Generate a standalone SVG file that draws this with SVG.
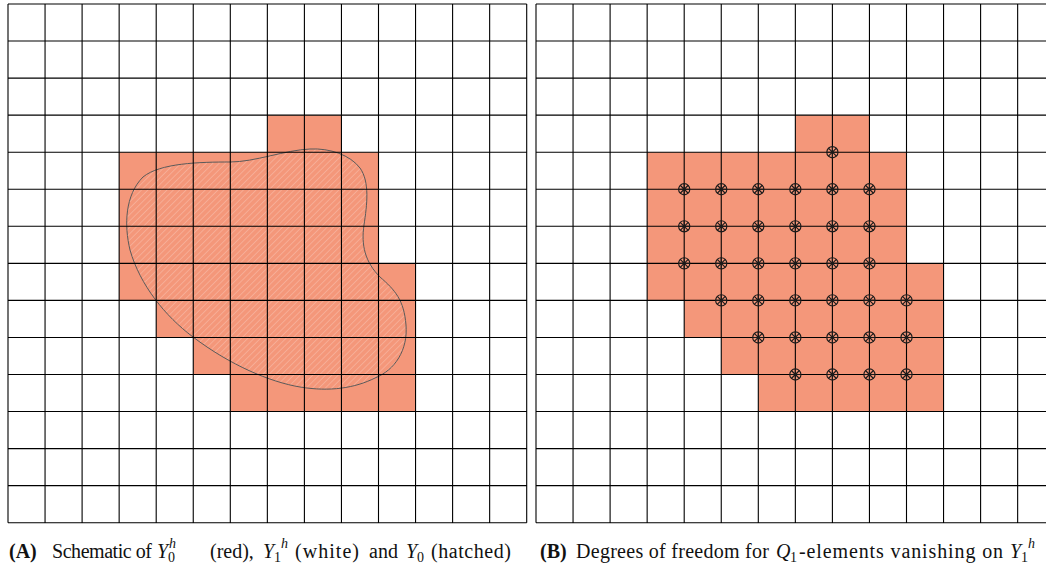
<svg xmlns="http://www.w3.org/2000/svg" xmlns:xlink="http://www.w3.org/1999/xlink" width="1046" height="567" viewBox="0 0 1046 567">
<style>
.grid{fill:none;stroke:#000;stroke-width:1.1}
.red{fill:#F4977A;stroke:none}
.blob{fill:url(#hatch);stroke:#5a5a5a;stroke-width:1}
.dof{fill:none;stroke:#1a1a1a;stroke-width:1.15}
.cap{font-family:"Liberation Serif","DejaVu Serif",serif;font-size:20px;fill:#111}
.it{font-style:italic}
.sm{font-size:14px}
</style>
<defs>
<pattern id="hatch" patternUnits="userSpaceOnUse" width="4.5" height="4.5" patternTransform="rotate(45)">
<line x1="0" y1="0" x2="0" y2="4.5" stroke="#ffffff" stroke-opacity="0.33" stroke-width="1.2"/>
</pattern>
<path id="gridpath" d="M8 4V522.7M45.05 4V522.7M82.1 4V522.7M119.15 4V522.7M156.2 4V522.7M193.25 4V522.7M230.3 4V522.7M267.35 4V522.7M304.4 4V522.7M341.45 4V522.7M378.5 4V522.7M415.55 4V522.7M452.6 4V522.7M489.65 4V522.7M526.7 4V522.7M8 4H526.7M8 41.05H526.7M8 78.1H526.7M8 115.15H526.7M8 152.2H526.7M8 189.25H526.7M8 226.3H526.7M8 263.35H526.7M8 300.4H526.7M8 337.45H526.7M8 374.5H526.7M8 411.55H526.7M8 448.6H526.7M8 485.65H526.7M8 522.7H526.7"/>
<path id="redpath" d="M267.35 115.15H341.45V152.2H378.5V263.35H415.55V411.55H230.3V374.5H193.25V337.45H156.2V300.4H119.15V152.2H267.35Z"/>
<g id="dofmark">
<circle cx="0" cy="0" r="5.6"/>
<path d="M-5.6 0H5.6M0 -5.6V5.6M-4 -4L4 4M-4 4L4 -4"/>
</g>
</defs>
<rect x="0" y="0" width="1046" height="567" fill="#fff"/>

<g id="panelA">
<use xlink:href="#redpath" href="#redpath" class="red"/>
<path id="Y0" class="blob" d="M143 177C160 163 200 162 230 162C255 162 285 150 310 149C330 148 350 155 360 168C370 182 367 205 364 225C361 245 365 262 380 277C395 290 404 300 406 325C408 350 395 370 375 378C355 388 330 392 300 387C270 382 230 365 193 337C165 316 140 285 130 250C124 225 125 195 143 177Z"/>
<use xlink:href="#gridpath" href="#gridpath" class="grid"/>
</g>

<g id="panelB">
<use xlink:href="#redpath" href="#redpath" class="red" transform="translate(528 0)"/>
<use xlink:href="#gridpath" href="#gridpath" class="grid" transform="translate(528 0)"/>
<g id="dofs" class="dof">
<use href="#dofmark" x="832.4" y="152.2"/>
<use href="#dofmark" x="684.2" y="189.25"/><use href="#dofmark" x="721.25" y="189.25"/><use href="#dofmark" x="758.3" y="189.25"/><use href="#dofmark" x="795.35" y="189.25"/><use href="#dofmark" x="832.4" y="189.25"/><use href="#dofmark" x="869.45" y="189.25"/>
<use href="#dofmark" x="684.2" y="226.3"/><use href="#dofmark" x="721.25" y="226.3"/><use href="#dofmark" x="758.3" y="226.3"/><use href="#dofmark" x="795.35" y="226.3"/><use href="#dofmark" x="832.4" y="226.3"/><use href="#dofmark" x="869.45" y="226.3"/>
<use href="#dofmark" x="684.2" y="263.35"/><use href="#dofmark" x="721.25" y="263.35"/><use href="#dofmark" x="758.3" y="263.35"/><use href="#dofmark" x="795.35" y="263.35"/><use href="#dofmark" x="832.4" y="263.35"/><use href="#dofmark" x="869.45" y="263.35"/>
<use href="#dofmark" x="721.25" y="300.4"/><use href="#dofmark" x="758.3" y="300.4"/><use href="#dofmark" x="795.35" y="300.4"/><use href="#dofmark" x="832.4" y="300.4"/><use href="#dofmark" x="869.45" y="300.4"/><use href="#dofmark" x="906.5" y="300.4"/>
<use href="#dofmark" x="758.3" y="337.45"/><use href="#dofmark" x="795.35" y="337.45"/><use href="#dofmark" x="832.4" y="337.45"/><use href="#dofmark" x="869.45" y="337.45"/><use href="#dofmark" x="906.5" y="337.45"/>
<use href="#dofmark" x="795.35" y="374.5"/><use href="#dofmark" x="832.4" y="374.5"/><use href="#dofmark" x="869.45" y="374.5"/><use href="#dofmark" x="906.5" y="374.5"/>
</g>
</g>

<g id="captionA">
<text class="cap" x="9" y="558" font-weight="bold">(A)</text>
<text class="cap" x="52" y="558" textLength="100" lengthAdjust="spacing">Schematic of</text>
<text class="cap it" x="157" y="558">Y</text>
<text class="cap it sm" x="169" y="548">h</text>
<text class="cap sm" x="168" y="562">0</text>
<text class="cap" x="210" y="558">(red),</text>
<text class="cap it" x="263" y="558">Y</text>
<text class="cap sm" x="274" y="562">1</text>
<text class="cap it sm" x="281" y="548">h</text>
<text class="cap" x="295" y="558" textLength="64" lengthAdjust="spacing">(white)</text>
<text class="cap" x="369" y="558">and</text>
<text class="cap it" x="406" y="558">Y</text>
<text class="cap sm" x="417" y="562">0</text>
<text class="cap" x="431" y="558" textLength="80" lengthAdjust="spacing">(hatched)</text>
</g>
<g id="captionB">
<text class="cap" x="540" y="558" font-weight="bold">(B)</text>
<text class="cap" x="576" y="558" textLength="193" lengthAdjust="spacing">Degrees of freedom for</text>
<text class="cap it" x="776" y="558">Q</text>
<text class="cap sm" x="790" y="562">1</text>
<text class="cap" x="799" y="558" textLength="204" lengthAdjust="spacing">-elements vanishing on</text>
<text class="cap it" x="1010" y="558">Y</text>
<text class="cap sm" x="1021" y="562">1</text>
<text class="cap it sm" x="1028" y="548">h</text>
</g>
</svg>
